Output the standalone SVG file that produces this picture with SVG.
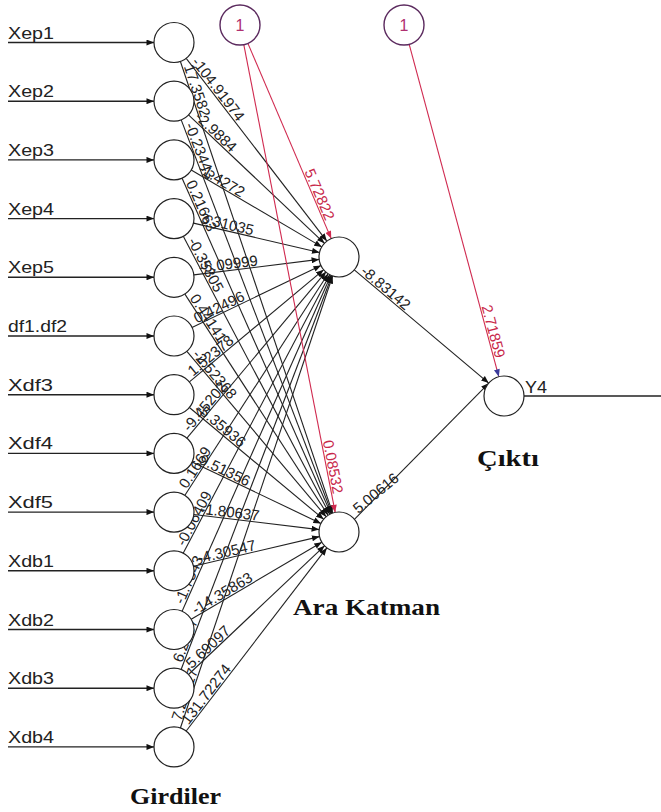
<svg xmlns="http://www.w3.org/2000/svg" width="661" height="812" viewBox="0 0 661 812">
<style>
.n{fill:#fff;stroke:#222;stroke-width:1.2}
.b{fill:#fff;stroke:#5b2a5e;stroke-width:1.4}
.c{stroke:#222;stroke-width:1.1;fill:none}
.ci{stroke:#222;stroke-width:1.4;fill:none}
.r{stroke:#d02a50;stroke-width:1.1;fill:none}
.lab{font-family:"Liberation Sans",Arial,sans-serif;font-size:16px;fill:#222}
.w{font-family:"Liberation Sans",Arial,sans-serif;font-size:15px;fill:#222}
.wr{font-family:"Liberation Sans",Arial,sans-serif;font-size:15px;fill:#c8284a}
.h{font-family:"Liberation Serif","Times New Roman",serif;font-size:23px;font-weight:bold;fill:#111}
</style>
<defs>
<marker id="ab" viewBox="0 0 10 8" refX="10" refY="4" markerWidth="8" markerHeight="6" markerUnits="userSpaceOnUse" orient="auto"><path d="M0,0 L10,4 L0,8 z" fill="#111"/></marker>
<marker id="ar" viewBox="0 0 10 8" refX="10" refY="4" markerWidth="8" markerHeight="6" markerUnits="userSpaceOnUse" orient="auto"><path d="M0,0 L10,4 L0,8 z" fill="#d02a50"/></marker>
<marker id="au" viewBox="0 0 10 8" refX="10" refY="4" markerWidth="8" markerHeight="6" markerUnits="userSpaceOnUse" orient="auto"><path d="M0,0 L10,4 L0,8 z" fill="#3a3a9a"/></marker>
</defs>

<g id="connectors">
<g class="ci" marker-end="url(#ab)">
<line x1="8" y1="42.5" x2="154" y2="42.5"/>
<line x1="8" y1="101.2" x2="154" y2="101.2"/>
<line x1="8" y1="159.9" x2="154" y2="159.9"/>
<line x1="8" y1="218.6" x2="154" y2="218.6"/>
<line x1="8" y1="277.3" x2="154" y2="277.3"/>
<line x1="8" y1="336" x2="154" y2="336"/>
<line x1="8" y1="394.7" x2="154" y2="394.7"/>
<line x1="8" y1="453.4" x2="154" y2="453.4"/>
<line x1="8" y1="512.1" x2="154" y2="512.1"/>
<line x1="8" y1="570.8" x2="154" y2="570.8"/>
<line x1="8" y1="629.5" x2="154" y2="629.5"/>
<line x1="8" y1="688.2" x2="154" y2="688.2"/>
<line x1="8" y1="746.9" x2="154" y2="746.9"/>
</g>
<g class="c" marker-end="url(#ab)">
<line x1="186.2" y1="58.4" x2="326.8" y2="241.1"/>
<line x1="188.5" y1="114.9" x2="324.5" y2="243.3"/>
<line x1="191.2" y1="170" x2="321.8" y2="246.9"/>
<line x1="193.5" y1="223.1" x2="319.5" y2="252.5"/>
<line x1="193.9" y1="274.9" x2="319.1" y2="259.4"/>
<line x1="192" y1="327.4" x2="321" y2="265.6"/>
<line x1="189.4" y1="381.9" x2="323.6" y2="269.8"/>
<line x1="186.9" y1="438.1" x2="326.1" y2="271.7"/>
<line x1="184.9" y1="495.3" x2="328.1" y2="273.8"/>
<line x1="183.3" y1="553.1" x2="329.7" y2="274.7"/>
<line x1="182.1" y1="611.2" x2="330.9" y2="275.3"/>
<line x1="181.1" y1="669.5" x2="331.9" y2="275.7"/>
<line x1="180.4" y1="728" x2="332.6" y2="276"/>
<line x1="180.4" y1="61.5" x2="332.6" y2="513"/>
<line x1="181.2" y1="119.9" x2="331.8" y2="513.3"/>
<line x1="182.1" y1="178.2" x2="330.9" y2="513.7"/>
<line x1="183.3" y1="236.3" x2="329.7" y2="514.3"/>
<line x1="184.9" y1="294.1" x2="328.1" y2="515.2"/>
<line x1="186.9" y1="351.3" x2="326.1" y2="516.7"/>
<line x1="189.4" y1="407.5" x2="323.6" y2="519.2"/>
<line x1="192.1" y1="462" x2="320.9" y2="523.4"/>
<line x1="193.9" y1="514.5" x2="319.1" y2="529.6"/>
<line x1="193.5" y1="566.2" x2="319.5" y2="536.6"/>
<line x1="191.2" y1="619.3" x2="321.8" y2="542.2"/>
<line x1="188.5" y1="674.5" x2="324.5" y2="545.8"/>
<line x1="186.2" y1="731" x2="326.8" y2="547.9"/>
<line x1="354.3" y1="269.9" x2="488.7" y2="383.1"/>
<line x1="354.4" y1="519.3" x2="488.6" y2="383.3"/>
</g>
<line class="ci" x1="524" y1="396" x2="661" y2="396"/>
<g class="r" marker-end="url(#ar)">
<line x1="247.9" y1="43.4" x2="331.2" y2="238.6"/>
<line x1="243.8" y1="44.6" x2="335.2" y2="512.4"/>
</g>
<line class="r" x1="409.2" y1="44.3" x2="498.8" y2="376.7" marker-end="url(#au)"/>
<g class="w">
<text transform="translate(189.9,63.1) rotate(52.4)" y="-1.5">-104.91974</text>
<text transform="translate(192.9,119.1) rotate(43.4)" y="-1.5">-2.9884</text>
<text transform="translate(196.4,173.1) rotate(30.5)" y="-1.5">-1.4272</text>
<text transform="translate(199.3,224.5) rotate(13.1)" y="-1.5">3.31035</text>
<text transform="translate(199.8,274.1) rotate(-7)" y="-1.5">-5.09999</text>
<text transform="translate(197.5,324.8) rotate(-25.6)" y="-1.5">0.42496</text>
<text transform="translate(194,378) rotate(-39.8)" y="-1.5">1.52378</text>
<text transform="translate(190.7,433.5) rotate(-50)" y="-1.5">-9.45202</text>
<text transform="translate(188.1,490.3) rotate(-57.1)" y="-1.5">0.1669</text>
<text transform="translate(186.1,547.8) rotate(-62.3)" y="-1.5">-0.06409</text>
<text transform="translate(184.5,605.7) rotate(-66.1)" y="-1.5">-1.7543</text>
<text transform="translate(183.3,663.9) rotate(-69.1)" y="-1.5">6.2187</text>
<text transform="translate(182.3,722.3) rotate(-71.4)" y="-1.5">7.25417</text>
<text transform="translate(182.3,67.1) rotate(71.4)" y="-1.5">17.3582</text>
<text transform="translate(183.3,125.5) rotate(69)" y="-1.5">-0.23443</text>
<text transform="translate(184.5,183.7) rotate(66.1)" y="-1.5">0.21663</text>
<text transform="translate(186.1,241.6) rotate(62.2)" y="-1.5">-0.35305</text>
<text transform="translate(188.1,299.1) rotate(57.1)" y="-1.5">0.44141</text>
<text transform="translate(190.7,355.9) rotate(49.9)" y="-1.5">-2.52368</text>
<text transform="translate(194,411.3) rotate(39.8)" y="-1.5">-5.35936</text>
<text transform="translate(197.5,464.6) rotate(25.5)" y="-1.5">9.51356</text>
<text transform="translate(199.8,515.2) rotate(6.9)" y="-1.5">-1.80637</text>
<text transform="translate(199.3,564.9) rotate(-13.2)" y="-1.5">-4.30547</text>
<text transform="translate(196.4,616.3) rotate(-30.6)" y="-1.5">-14.35863</text>
<text transform="translate(192.9,670.3) rotate(-43.4)" y="-1.5">5.69097</text>
<text transform="translate(189.8,726.3) rotate(-52.5)" y="-1.5">131.72274</text>
<text transform="translate(358.9,273.8) rotate(40.1)" y="-1.5">-8.83142</text>
<text transform="translate(359.1,515.5) rotate(-39.5)" y="-1.5">5.00616</text>
</g>
<g class="wr" text-anchor="end">
<text transform="translate(324.1,222) rotate(66.9)" y="-1.5">5.72822</text>
<text transform="translate(331.7,494.7) rotate(79)" y="-1.5">0.08532</text>
<text transform="translate(494.1,359.3) rotate(74.9)" y="-1.5">2.71859</text>
</g>
</g>

<g id="in1"><circle class="n" cx="174" cy="42.5" r="20"/><text class="lab" x="8" y="38.5" textLength="46" lengthAdjust="spacingAndGlyphs">Xep1</text></g>
<g id="in2"><circle class="n" cx="174" cy="101.2" r="20"/><text class="lab" x="8" y="97.2" textLength="46" lengthAdjust="spacingAndGlyphs">Xep2</text></g>
<g id="in3"><circle class="n" cx="174" cy="159.9" r="20"/><text class="lab" x="8" y="155.9" textLength="46" lengthAdjust="spacingAndGlyphs">Xep3</text></g>
<g id="in4"><circle class="n" cx="174" cy="218.6" r="20"/><text class="lab" x="8" y="214.6" textLength="46" lengthAdjust="spacingAndGlyphs">Xep4</text></g>
<g id="in5"><circle class="n" cx="174" cy="277.3" r="20"/><text class="lab" x="8" y="273.3" textLength="46" lengthAdjust="spacingAndGlyphs">Xep5</text></g>
<g id="in6"><circle class="n" cx="174" cy="336" r="20"/><text class="lab" x="8" y="332" textLength="59" lengthAdjust="spacingAndGlyphs">df1.df2</text></g>
<g id="in7"><circle class="n" cx="174" cy="394.7" r="20"/><text class="lab" x="8" y="390.7" textLength="45" lengthAdjust="spacingAndGlyphs">Xdf3</text></g>
<g id="in8"><circle class="n" cx="174" cy="453.4" r="20"/><text class="lab" x="8" y="449.4" textLength="45" lengthAdjust="spacingAndGlyphs">Xdf4</text></g>
<g id="in9"><circle class="n" cx="174" cy="512.1" r="20"/><text class="lab" x="8" y="508.1" textLength="45" lengthAdjust="spacingAndGlyphs">Xdf5</text></g>
<g id="in10"><circle class="n" cx="174" cy="570.8" r="20"/><text class="lab" x="8" y="566.8" textLength="46" lengthAdjust="spacingAndGlyphs">Xdb1</text></g>
<g id="in11"><circle class="n" cx="174" cy="629.5" r="20"/><text class="lab" x="8" y="625.5" textLength="46" lengthAdjust="spacingAndGlyphs">Xdb2</text></g>
<g id="in12"><circle class="n" cx="174" cy="688.2" r="20"/><text class="lab" x="8" y="684.2" textLength="46" lengthAdjust="spacingAndGlyphs">Xdb3</text></g>
<g id="in13"><circle class="n" cx="174" cy="746.9" r="20"/><text class="lab" x="8" y="742.9" textLength="46" lengthAdjust="spacingAndGlyphs">Xdb4</text></g>

<g id="bias1"><circle class="b" cx="240" cy="25" r="20"/><text class="lab" x="240" y="31" text-anchor="middle" style="fill:#b03070">1</text></g>
<g id="bias2"><circle class="b" cx="404" cy="25" r="20"/><text class="lab" x="404" y="31" text-anchor="middle" style="fill:#b03070">1</text></g>

<g id="hidden1"><circle class="n" cx="339" cy="257" r="20"/></g>
<g id="hidden2"><circle class="n" cx="339" cy="532" r="20"/></g>
<g id="output"><circle class="n" cx="504" cy="396" r="20"/><text class="lab" x="525" y="393" textLength="22" lengthAdjust="spacingAndGlyphs">Y4</text></g>

<g id="titles">
<text class="h" x="130" y="804" textLength="91" lengthAdjust="spacingAndGlyphs">Girdiler</text>
<text class="h" x="293" y="615" textLength="147" lengthAdjust="spacingAndGlyphs">Ara Katman</text>
<text class="h" x="477" y="466" textLength="62" lengthAdjust="spacingAndGlyphs">Çıktı</text>
</g>
</svg>
